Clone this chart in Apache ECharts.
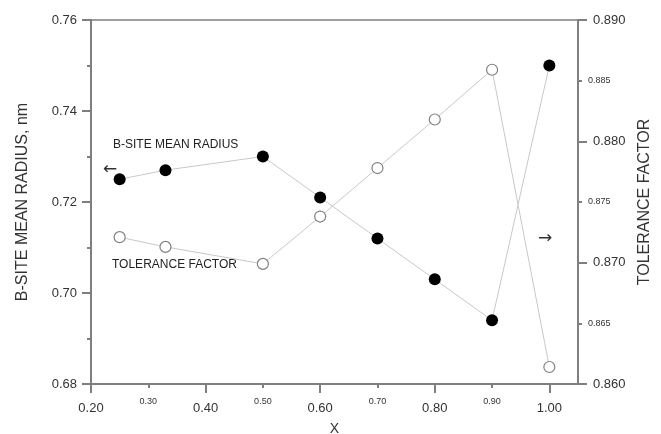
<!DOCTYPE html>
<html>
<head>
<meta charset="utf-8">
<script src="https://cdn.jsdelivr.net/npm/echarts@6/dist/echarts.min.js"></script>
<style>
  html, body { margin: 0; padding: 0; background: #fff; }
  #chart { width: 661px; height: 434px; }
</style>
</head>
<body>
<div id="chart"></div>
<script>
// x values (composition)
var xValues = [0.25, 0.33, 0.50, 0.60, 0.70, 0.80, 0.90, 1.00];
// B-site mean radius, nm (left axis)
var radius = [0.725, 0.727, 0.730, 0.721, 0.712, 0.703, 0.694, 0.750];
// tolerance factor (right axis)
var tolerance = [0.8721, 0.8713, 0.8699, 0.8738, 0.8778, 0.8818, 0.8859, 0.8614];

var xMajor = [0.2, 0.4, 0.6, 0.8, 1.0];
var xMinor = [0.3, 0.5, 0.7, 0.9];
var rightMinor = [0.865, 0.875, 0.885];

var font = 'Liberation Sans, Arial, sans-serif';
var axisColor = '#7f7f7f';
var textColor = '#333';

function pairs(xs, ys) {
  return xs.map(function (x, i) { return [x, ys[i]]; });
}

var chart = echarts.init(document.getElementById('chart'));

var option = {
  animation: false,
  textStyle: { fontFamily: font },
  grid: {
    left: 91, right: 83, top: 20, bottom: 50,
    outerBoundsMode: 'none',
    show: true, borderColor: axisColor, borderWidth: 1.5
  },
  xAxis: [
    {
      type: 'value', min: 0.2, max: 1.05, position: 'bottom',
      name: 'X', nameLocation: 'middle', nameGap: 38,
      nameTextStyle: { fontSize: 14, color: textColor, fontFamily: font },
      axisLine: { lineStyle: { color: axisColor, width: 2 } },
      axisTick: { customValues: xMajor, length: 9, lineStyle: { color: axisColor, width: 2 } },
      axisLabel: {
        customValues: xMajor, margin: 18, fontSize: 13, color: textColor, fontFamily: font,
        formatter: function (v) { return v.toFixed(2); }
      },
      splitLine: { show: false }
    },
    {
      type: 'value', min: 0.2, max: 1.05, position: 'bottom', offset: 0,
      axisLine: { show: false },
      axisTick: { customValues: xMinor, length: 4, lineStyle: { color: axisColor, width: 2 } },
      axisLabel: {
        customValues: xMinor, margin: 13, fontSize: 9, color: textColor, fontFamily: font,
        formatter: function (v) { return v.toFixed(2); }
      },
      splitLine: { show: false }
    }
  ],
  yAxis: [
    {
      type: 'value', min: 0.68, max: 0.76, interval: 0.02, position: 'left',
      name: 'B-SITE MEAN RADIUS, nm', nameLocation: 'middle', nameGap: 60, nameRotate: 90,
      nameTextStyle: { fontSize: 16, color: textColor, fontFamily: font },
      axisLine: { show: true, lineStyle: { color: axisColor, width: 2 } },
      axisTick: { show: true, length: 9, lineStyle: { color: axisColor, width: 2 } },
      minorTick: { show: true, splitNumber: 2, length: 4, lineStyle: { color: axisColor, width: 2 } },
      axisLabel: {
        margin: 14, fontSize: 13, color: textColor, fontFamily: font,
        formatter: function (v) { return v.toFixed(2); }
      },
      splitLine: { show: false }
    },
    {
      type: 'value', min: 0.86, max: 0.89, interval: 0.01, position: 'right',
      name: 'TOLERANCE FACTOR', nameLocation: 'middle', nameGap: 58, nameRotate: 90,
      nameTextStyle: { fontSize: 16, color: textColor, fontFamily: font },
      axisLine: { show: true, lineStyle: { color: axisColor, width: 2 } },
      axisTick: { show: true, length: 9, lineStyle: { color: axisColor, width: 2 } },
      axisLabel: {
        margin: 15, fontSize: 13, color: textColor, fontFamily: font,
        formatter: function (v) { return v.toFixed(3); }
      },
      splitLine: { show: false }
    },
    {
      type: 'value', min: 0.86, max: 0.89, position: 'right', offset: 0,
      axisLine: { show: false },
      axisTick: { show: true, customValues: rightMinor, length: 4, lineStyle: { color: axisColor, width: 2 } },
      axisLabel: {
        customValues: rightMinor, margin: 10, fontSize: 9, color: textColor, fontFamily: font,
        formatter: function (v) { return v.toFixed(3); }
      },
      splitLine: { show: false }
    }
  ],
  graphic: [
    { type: 'text', left: 113, top: 139, style: { text: 'B-SITE MEAN RADIUS', fontSize: 12, fill: '#222', fontFamily: font } },
    { type: 'text', left: 103, top: 161, style: { text: '←', fontSize: 17, fill: '#333', fontFamily: 'DejaVu Sans' } },
    { type: 'text', left: 112, top: 259, style: { text: 'TOLERANCE FACTOR', fontSize: 12, fill: '#222', fontFamily: font } },
    { type: 'text', left: 538, top: 230, style: { text: '→', fontSize: 17, fill: '#333', fontFamily: 'DejaVu Sans' } }
  ],
  series: [
    {
      name: 'B-SITE MEAN RADIUS', type: 'line', xAxisIndex: 0, yAxisIndex: 0,
      data: pairs(xValues, radius),
      symbol: 'circle', symbolSize: 12,
      itemStyle: { color: '#000', borderColor: '#000', borderWidth: 0 },
      lineStyle: { color: '#c8c8c8', width: 1 },
      z: 3
    },
    {
      name: 'TOLERANCE FACTOR', type: 'line', xAxisIndex: 0, yAxisIndex: 1,
      data: pairs(xValues, tolerance),
      symbol: 'circle', symbolSize: 11,
      itemStyle: { color: '#fff', borderColor: '#808080', borderWidth: 1.2 },
      lineStyle: { color: '#c8c8c8', width: 1 },
      z: 2
    }
  ]
};

chart.setOption(option);
</script>
</body>
</html>
